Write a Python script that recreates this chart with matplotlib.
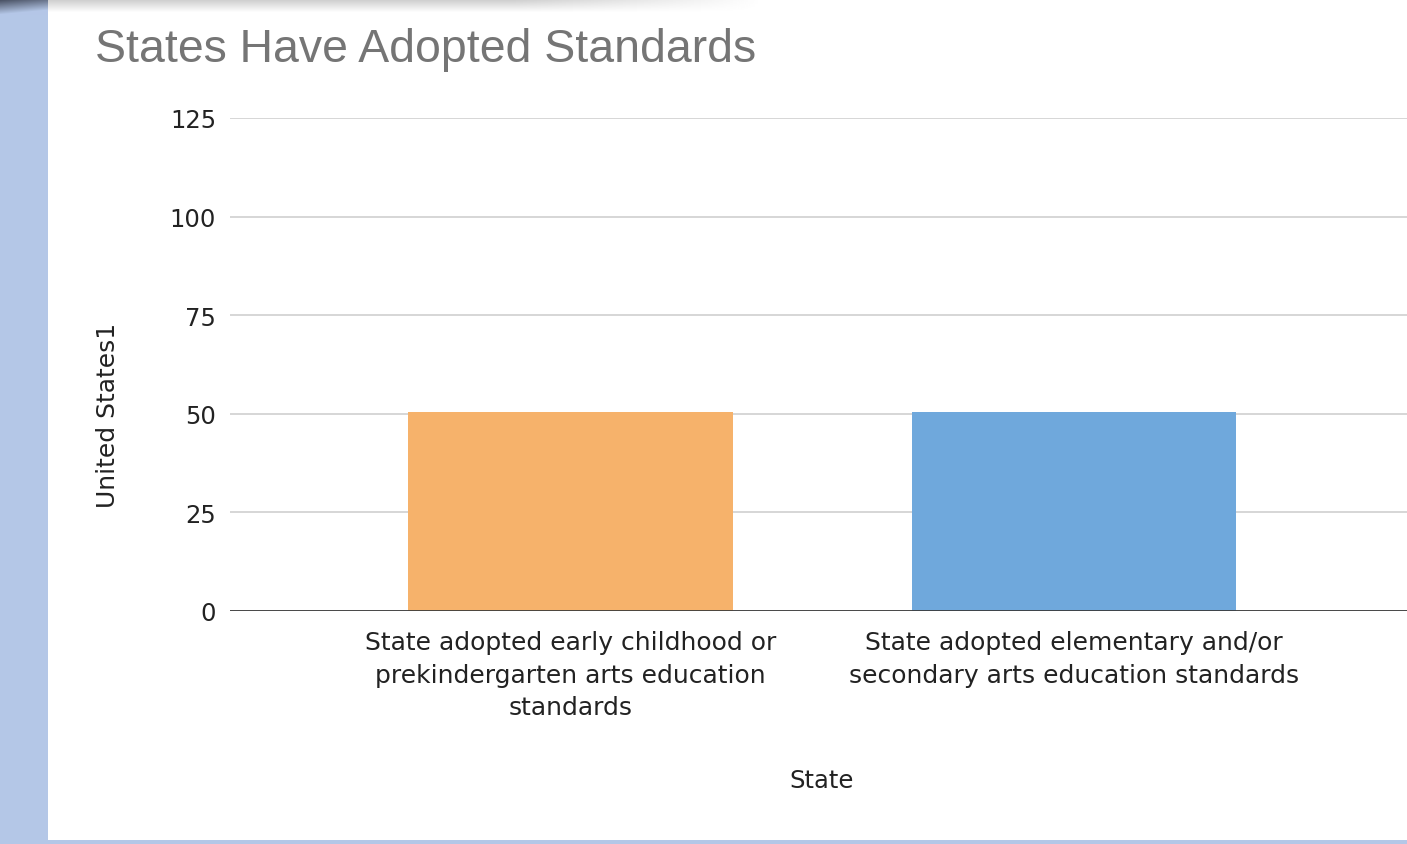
import numpy as np
import matplotlib
matplotlib.use("Agg")
import matplotlib.pyplot as plt

# données
categories = ["State adopted early childhood or\nprekindergarten arts education\nstandards",
              "State adopted elementary and/or\nsecondary arts education standards"]
valeurs = [50.5, 50.5]
couleurs = ["#f6b26b", "#6fa8dc"]
graduations_y = [0, 25, 50, 75, 100, 125]

plt.rcParams['font.family'] = ['DejaVu Sans']

fig = plt.figure(figsize=(14.07, 8.45), dpi=100)
fig.patch.set_facecolor("white")

# fond : bande bleue à gauche, ombre grise en haut
fond = fig.add_axes([0, 0, 1, 1], zorder=-10)
fond.set_xlim(0, 1407)
fond.set_ylim(845, 0)
fond.axis("off")
fond.add_patch(plt.Rectangle((0, 0), 48, 845, color="#b4c7e7", lw=0, zorder=1))
fond.add_patch(plt.Rectangle((0, 841), 1407, 4, color="#b4c7e7", lw=0, zorder=1))
ombre = np.ones((14, 200))
for i in range(14):
    ombre[i, :] = 0.80 + 0.2 * i / 13
ombre = 1 - (1 - ombre) * (1 - np.clip((np.arange(200) - 130) / 70, 0, 1))
fond.imshow(ombre, cmap="gray", vmin=0, vmax=1, extent=(48, 760, 14, 0), aspect="auto", zorder=2)
# coin sombre en haut à gauche
coin = np.zeros((16, 48, 3))
bleu = np.array([0.706, 0.780, 0.906])
sombre = np.array([0.27, 0.30, 0.37])
for i in range(16):
    for j in range(48):
        t = np.clip(1 - i / 15 - j / 160, 0, 1)
        coin[i, j] = bleu * (1 - t) + sombre * t
fond.imshow(coin, extent=(0, 48, 16, 0), aspect="auto", zorder=2)

ax = fig.add_axes([230 / 1407, 1 - 611.7 / 845, 1 - 230 / 1407 + 0.001, (611.7 - 119) / 845])
x = np.arange(len(categories))
ax.bar(x, valeurs, width=0.645, color=couleurs, zorder=3)

ax.set_xlim(-0.676, 1.664)
ax.set_ylim(0, 125)
ax.set_yticks(graduations_y)
ax.yaxis.grid(True, color="#d0d0d0", lw=1.2, zorder=0)
ax.axhline(0, color="#3a3a3a", lw=2.0, zorder=4)
for s in ax.spines.values():
    s.set_visible(False)
ax.tick_params(axis="y", length=0, pad=10, labelsize=17.5, labelcolor="#222222")
ax.tick_params(axis="x", length=0, pad=14, labelsize=18, labelcolor="#222222")
ax.set_xticks(x)
ax.set_xticklabels(categories, linespacing=1.45)

fig.text(822 / 1407, 1 - 781 / 845, "State", fontsize=17.5, color="#222222",
         ha="center", va="center")
fig.text(108 / 1407, 1 - 415 / 845, "United States1", fontsize=18, color="#222222",
         ha="center", va="center", rotation=90)

fig.text(95 / 1407, 1 - 50 / 845, "States Have Adopted Standards", fontsize=33.4,
         color="#757575", ha="left", va="center", family="Liberation Sans")

fig.savefig("out.png", dpi=100, facecolor="white")
